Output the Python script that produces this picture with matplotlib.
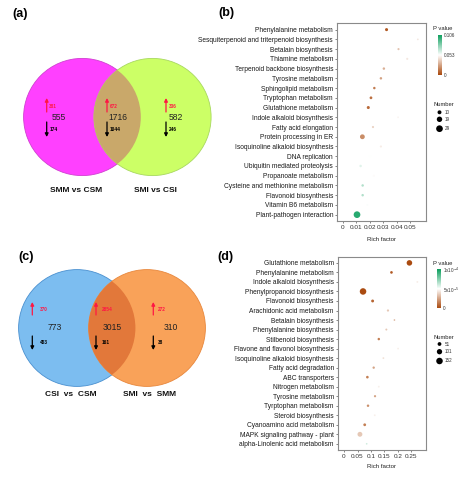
import numpy as np
import matplotlib
matplotlib.use('Agg')
import matplotlib.pyplot as plt
from matplotlib.patches import Circle
from matplotlib.colors import LinearSegmentedColormap, Normalize
from matplotlib.cm import ScalarMappable

plt.rcParams['font.family'] = ['Liberation Sans', 'DejaVu Sans']

W, H = 474, 480

# ---- Venn (a): DEGs, total / up / down for left, overlap, right
venn_a_names = ['SMM vs CSM', 'SMI vs CSI']
venn_a_total = [555, 1716, 582]
venn_a_up = [381, 672, 336]
venn_a_down = [174, 1044, 246]

# ---- Venn (c)
venn_c_names = ['CSI  vs  CSM', 'SMI  vs  SMM']
venn_c_total = [773, 3015, 310]
venn_c_up = [370, 2854, 272]
venn_c_down = [403, 161, 38]

# ---- KEGG enrichment (b), listed top to bottom
kegg_b_terms = [
    'Phenylalanine metabolism', 'Sesquiterpenoid and triterpenoid biosynthesis',
    'Betalain biosynthesis', 'Thiamine metabolism',
    'Terpenoid backbone biosynthesis', 'Tyrosine metabolism',
    'Sphingolipid metabolism', 'Tryptophan metabolism',
    'Glutathione metabolism', 'Indole alkaloid biosynthesis',
    'Fatty acid elongation', 'Protein processing in ER',
    'Isoquinoline alkaloid biosynthesis', 'DNA replication',
    'Ubiquitin mediated proteolysis', 'Propanoate metabolism',
    'Cysteine and methionine metabolism', 'Flavonoid biosynthesis',
    'Vitamin B6 metabolism', 'Plant-pathogen interaction']
kegg_b_rich = [0.0324, 0.0557, 0.0413, 0.0478, 0.0304, 0.0282, 0.0233, 0.0208,
               0.0188, 0.0410, 0.0223, 0.0144, 0.0282, 0.0200, 0.0131, 0.0230,
               0.0146, 0.0146, 0.0180, 0.0104]
kegg_b_number = [6, 2, 3, 3, 4, 4, 4, 5, 6, 2, 3, 15, 3, 4, 4, 3, 4, 4, 2, 29]
kegg_b_p = [0.005, 0.046, 0.036, 0.046, 0.030, 0.026, 0.015, 0.012, 0.010,
            0.050, 0.040, 0.020, 0.048, 0.053, 0.060, 0.052, 0.070, 0.070,
            0.054, 0.100]

# ---- KEGG enrichment (d), listed top to bottom
kegg_d_terms = [
    'Glutathione metabolism', 'Phenylalanine metabolism',
    'Indole alkaloid biosynthesis', 'Phenylpropanoid biosynthesis',
    'Flavonoid biosynthesis', 'Arachidonic acid metabolism',
    'Betalain biosynthesis', 'Phenylalanine biosynthesis',
    'Stilbenoid biosynthesis', 'Flavone and flavonol biosynthesis',
    'Isoquinoline alkaloid biosynthesis', 'Fatty acid degradation',
    'ABC transporters', 'Nitrogen metabolism', 'Tyrosine metabolism',
    'Tyrptophan metabolism', 'Steroid biosynthesis',
    'Cyanoamino acid metabolism', 'MAPK signaling pathway - plant',
    'alpha-Linolenic acid metabolism']
kegg_d_rich = [0.2426, 0.176, 0.272, 0.0705, 0.106, 0.163, 0.187, 0.157,
               0.129, 0.2005, 0.146, 0.110, 0.0866, 0.129, 0.115, 0.089,
               0.114, 0.0767, 0.059, 0.084]
kegg_d_number = [110, 25, 12, 152, 30, 18, 10, 14, 22, 12, 12, 20, 25, 12,
                 18, 22, 12, 28, 85, 10]
kegg_d_p = [1e-6, 5e-6, 4.5e-5, 1e-6, 8e-6, 3.5e-5, 3e-5, 3.5e-5, 1.5e-5,
            4.6e-5, 4.2e-5, 2.5e-5, 1.5e-5, 4.6e-5, 2.5e-5, 2e-5, 4.6e-5,
            1.5e-5, 3.5e-5, 6e-5]

size_legend_b = [10, 19, 29]
size_legend_d = [51, 101, 152]

pcmap = LinearSegmentedColormap.from_list('pv', ['#A9480C', '#ffffff', '#0E9F5E'])
RED = '#ff1744'


def px_axes(fig, x0, y0, x1, y1):
    return fig.add_axes([x0 / W, 1 - y1 / H, (x1 - x0) / W, (y1 - y0) / H])


def arrow(ax, x, y0, y1, color):
    ax.annotate('', xy=(x, y1), xytext=(x, y0),
                arrowprops=dict(arrowstyle='-|>', color=color, lw=0.9,
                                mutation_scale=5, shrinkA=0, shrinkB=0))


def venn(ax, centers, r, fills, edges, over, totals, ups, downs, names,
         num_x, arr_x, lab_x, up_y, down_y, name_y):
    cy = centers[0][1]
    c1 = Circle(centers[0], r, fc=fills[0], ec=edges[0], lw=0.6)
    c2 = Circle(centers[1], r, fc=fills[1], ec=edges[1], lw=0.6)
    ax.add_patch(c1)
    ax.add_patch(c2)
    clip = Circle(centers[0], r, transform=ax.transData)
    mid = Circle(centers[1], r, fc=over, ec='none')
    ax.add_patch(mid)
    mid.set_clip_path(clip)
    for i in range(3):
        ax.text(num_x[i], cy, str(totals[i]), fontsize=6.2, ha='center',
                va='center', color='#222222')
        arrow(ax, arr_x[i], cy + up_y[0], cy + up_y[1], RED)
        arrow(ax, arr_x[i], cy + down_y[0], cy + down_y[1], 'black')
        ax.text(lab_x[i], cy + (up_y[0] + up_y[1]) / 2 + 1, str(ups[i]),
                fontsize=3.4, color=RED, fontweight='bold', va='center')
        ax.text(lab_x[i], cy + (down_y[0] + down_y[1]) / 2, str(downs[i]),
                fontsize=3.4, color='black', fontweight='bold', va='center')
    for (cx, _), name in zip(centers, names):
        ax.text(cx - 6 if cx < sum(c[0] for c in centers) / 2 else cx + 3,
                name_y, name, fontsize=6, fontweight='bold', ha='center',
                va='center', color='#111111')


def dotplot(fig, box, terms, rich, number, pv, pmax, scale, xlim, ticks,
            ticklabels, xlabel_pad):
    ax = px_axes(fig, *box)
    n = len(terms)
    y = np.arange(n)[::-1]
    norm = Normalize(0, pmax)
    ax.scatter(rich, y, s=np.array(number) * scale, c=pv, cmap=pcmap,
               norm=norm, edgecolors='none', zorder=3)
    ax.set_yticks(y)
    ax.set_yticklabels(terms, fontsize=4.8, color='#1a1a1a')
    ax.set_ylim(-0.65, n - 1 + 0.65)
    ax.set_xlim(*xlim)
    ax.set_xticks(ticks)
    ax.set_xticklabels(ticklabels, fontsize=4.6, color='#333333')
    ax.set_xlabel('Rich factor', fontsize=4.4, color='#222222',
                  labelpad=xlabel_pad)
    for sp in ax.spines.values():
        sp.set_color('#8a8a8a')
        sp.set_linewidth(0.8)
    ax.tick_params(length=1.6, width=0.5, color='#555555', pad=1.2)
    return ax, norm


def legends(fig, bg, cb_box, norm, cb_ticks, cb_labels, title_y,
            num_title_y, sizes, scale, size_ys):
    bg.text(433.5, title_y, 'P value', fontsize=4.2, va='center',
            color='#222222')
    cax = px_axes(fig, *cb_box)
    cb = fig.colorbar(ScalarMappable(norm=norm, cmap=pcmap), cax=cax,
                      ticks=cb_ticks)
    cb.outline.set_visible(False)
    cb.ax.set_yticklabels(cb_labels, fontsize=3.3, color='#333333')
    cb.ax.tick_params(length=0, pad=1.5)
    bg.text(433.5, num_title_y, 'Number', fontsize=4.2, va='center',
            color='#222222')
    bg.scatter([439.5] * len(sizes), size_ys, s=np.array(sizes) * scale,
               c='black', edgecolors='none')
    for v, yy in zip(sizes, size_ys):
        bg.text(444.5, yy, str(v), fontsize=3.3, va='center',
                color='#333333')


fig = plt.figure(figsize=(W / 100, H / 100), dpi=100)
bg = fig.add_axes([0, 0, 1, 1])
bg.set_xlim(0, W)
bg.set_ylim(H, 0)
bg.axis('off')

# panel labels
for lab, x, y in [('(a)', 12, 14), ('(b)', 218, 13), ('(c)', 18, 257),
                  ('(d)', 217, 257)]:
    bg.text(x, y, lab, fontsize=9, fontweight='bold', va='center')

venn(bg, [(82.2, 117), (152.5, 117)], 58.6,
     ['#ff40ff', '#ccff66'], ['#d040d0', '#a8d860'], '#c9a86a',
     venn_a_total, venn_a_up, venn_a_down, venn_a_names,
     num_x=[59, 118.3, 176], arr_x=[46.7, 107, 166], lab_x=[49.3, 110, 168.7],
     up_y=(-5, -19), down_y=(5, 20), name_y=190.5)

venn(bg, [(77, 328), (147, 328)], 58.4,
     ['#7cbdf0', '#f9a259'], ['#4a90d0', '#e8873c'], '#e2783a',
     venn_c_total, venn_c_up, venn_c_down, venn_c_names,
     num_x=[54.3, 112.6, 170.7], arr_x=[32.3, 96, 153.3], lab_x=[40, 102, 158],
     up_y=(-13, -26), down_y=(8, 22), name_y=394.5)

ax_b, norm_b = dotplot(fig, (337, 23.3, 426.3, 221), kegg_b_terms,
                       kegg_b_rich, kegg_b_number, kegg_b_p, 0.106, 0.8,
                       (-0.0045, 0.062), [0, 0.01, 0.02, 0.03, 0.04, 0.05],
                       ['0', '0.01', '0.02', '0.03', '0.04', '0.05'], 5)
legends(fig, bg, (438, 35, 442, 75), norm_b, [0, 0.053, 0.106],
        ['0', '0.053', '0.106'], 28.3, 105, size_legend_b, 0.8,
        [112.3, 119.3, 128.7])

ax_d, norm_d = dotplot(fig, (337.7, 256.7, 425.7, 450), kegg_d_terms,
                       kegg_d_rich, kegg_d_number, kegg_d_p, 1e-4, 0.145,
                       (-0.0235, 0.303), [0, 0.05, 0.1, 0.15, 0.2, 0.25],
                       ['0', '0.05', '0.1', '0.15', '0.2', '0.25'], 4)
legends(fig, bg, (437, 269.3, 441, 308.3), norm_d, [0, 5e-5, 1e-4],
        ['0', '5x10$^{-5}$', '1x10$^{-4}$'], 263.3, 337.3, size_legend_d,
        0.145, [344, 351.7, 361])

fig.savefig('out.png', dpi=100)
